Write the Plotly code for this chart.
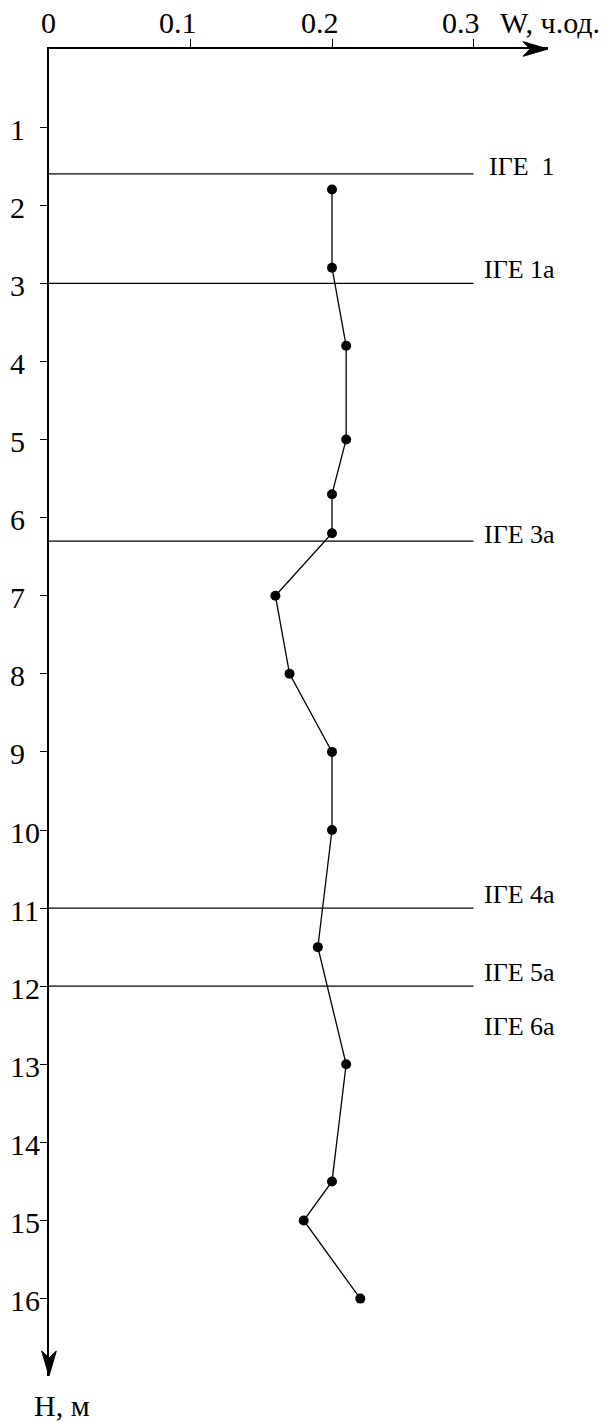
import plotly.graph_objects as go

# Moisture profile: depth (m) and natural moisture W (fraction of unit)
depth_m = [1.8, 2.8, 3.8, 5.0, 5.7, 6.2, 7.0, 8.0, 9.0, 10.0, 11.5, 13.0, 14.5, 15.0, 16.0]
moisture = [0.20, 0.20, 0.21, 0.21, 0.20, 0.20, 0.16, 0.17, 0.20, 0.20, 0.19, 0.21, 0.20, 0.18, 0.22]

# Engineering-geological element boundaries (m) and names
layer_bounds = [1.6, 3.0, 6.3, 11.0, 12.0]
layer_names = ["ІГЕ\u00a0\u00a01", "ІГЕ 1а", "ІГЕ 3а", "ІГЕ 4а", "ІГЕ 5а", "ІГЕ 6а"]

x_tickvals = [0, 0.1, 0.2, 0.3]
x_ticktext = ["0", "0.1", "0.2", "0.3"]
y_tickvals = list(range(1, 17))
y_ticktext = [str(v) for v in y_tickvals]

x_title = "W, ч.од."
y_title = "H, м"

FONT = "Liberation Serif"
W_PX, H_PX = 610, 1422
M_L, M_T, M_B = 49, 49, 46
PLOT_W = 499
PLOT_H = H_PX - M_T - M_B
X_MAX = PLOT_W / 1415.0
Y_MAX = PLOT_H / 78.1

fig = go.Figure()

fig.add_trace(go.Scatter(
    x=moisture, y=depth_m, mode="lines+markers",
    line=dict(color="black", width=1.3),
    marker=dict(color="black", size=10),
    cliponaxis=False, showlegend=False, hoverinfo="x+y",
))

# layer boundaries, drawn from the depth axis to W = 0.3
for b in layer_bounds:
    fig.add_shape(type="line", xref="x", yref="y", x0=0, x1=0.3, y0=b, y1=b,
                  line=dict(color="black", width=1.3))

# layer names, right-aligned beyond the boundary lines
label_depths = [1.51, 2.82, 6.22, 10.83, 11.82, 12.52]
for name, d in zip(layer_names, label_depths):
    fig.add_annotation(x=0.3, y=d, xref="x", yref="y", text=name, showarrow=False,
                       xanchor="right", yanchor="middle", xshift=83,
                       font=dict(family=FONT, size=26, color="black"))

# W tick labels above the top axis
for v, t in zip(x_tickvals, x_ticktext):
    fig.add_annotation(x=v, y=1, xref="x", yref="paper", text=t, showarrow=False,
                       xanchor="right", yanchor="middle", xshift=8.5, yshift=27,
                       font=dict(family=FONT, size=30, color="black"))

# depth tick labels, left-aligned in a fixed-width box at the page edge
for v, t in zip(y_tickvals, y_ticktext):
    fig.add_annotation(x=0, y=v, xref="paper", yref="y", text=t, showarrow=False,
                       xanchor="left", yanchor="middle", xshift=-40, yshift=-2,
                       width=34, align="left", borderpad=0,
                       font=dict(family=FONT, size=30, color="black"))

# axis titles
fig.add_annotation(x=1, y=1, xref="paper", yref="paper", text=x_title, showarrow=False,
                   xanchor="left", yanchor="middle", xshift=-50, yshift=27,
                   font=dict(family=FONT, size=30, color="black"))
fig.add_annotation(x=0, y=0, xref="paper", yref="paper", text=y_title, showarrow=False,
                   xanchor="left", yanchor="middle", xshift=-17, yshift=-29,
                   font=dict(family=FONT, size=30, color="black"))

# arrowheads at the ends of both axes
fig.add_shape(type="path", xref="paper", yref="paper", xsizemode="pixel", ysizemode="pixel",
              xanchor=1, yanchor=1, path="M 0,0 L -25,7.3 L -18,0 L -25,-7.3 Z",
              fillcolor="black", line=dict(color="black", width=1))
fig.add_shape(type="path", xref="paper", yref="paper", xsizemode="pixel", ysizemode="pixel",
              xanchor=0, yanchor=0, path="M 0,0 L -7.3,25 L 0,18 L 7.3,25 Z",
              fillcolor="black", line=dict(color="black", width=1))

fig.update_layout(
    width=W_PX, height=H_PX,
    margin=dict(l=M_L, r=W_PX - M_L - PLOT_W, t=M_T, b=M_B, pad=0),
    paper_bgcolor="white", plot_bgcolor="white",
    font=dict(family=FONT, color="black"),
    xaxis=dict(
        side="top", range=[0, X_MAX], showgrid=False, zeroline=False,
        showline=True, linecolor="black", linewidth=1.6,
        tickmode="array", tickvals=x_tickvals[1:], ticks="outside",
        ticklen=8, tickwidth=1.3, tickcolor="black", showticklabels=False,
    ),
    yaxis=dict(
        range=[Y_MAX, 0], showgrid=False, zeroline=False,
        showline=True, linecolor="black", linewidth=1.6,
        tickmode="array", tickvals=y_tickvals, ticks="outside",
        ticklen=7, tickwidth=1.3, tickcolor="black", showticklabels=False,
    ),
    yaxis2=dict(
        overlaying="y", anchor="x", side="left", range=[Y_MAX, 0],
        showgrid=False, zeroline=False, showline=False,
        tickmode="array", tickvals=y_tickvals, ticks="inside",
        ticklen=7, tickwidth=1.3, tickcolor="black", showticklabels=False,
    ),
    showlegend=False,
)

fig.write_html("out.html")
